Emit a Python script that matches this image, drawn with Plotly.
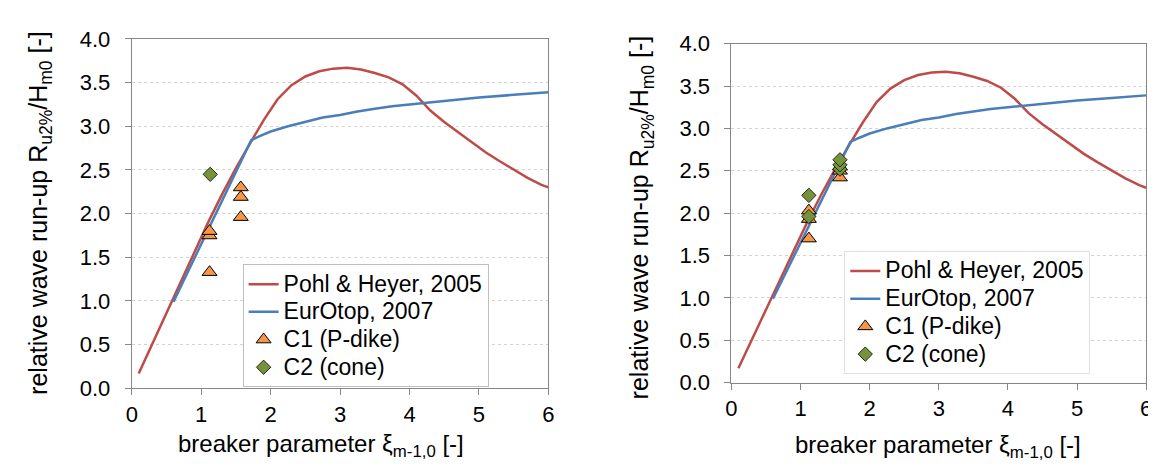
import plotly.graph_objects as go

# ---- data ----
ph_x = [0.1, 0.3, 0.5, 0.7, 0.9, 1.1, 1.3, 1.5, 1.7, 1.9, 2.1, 2.3, 2.5, 2.7, 2.9,
        3.1, 3.3, 3.5, 3.7, 3.9, 4.1, 4.3, 4.5, 4.7, 4.9, 5.1, 5.3, 5.5, 5.7, 5.9, 6.0]
ph_y = [0.17, 0.52, 0.87, 1.22, 1.56, 1.90, 2.22, 2.52, 2.80, 3.07, 3.31, 3.47, 3.57, 3.63, 3.66,
        3.67, 3.65, 3.61, 3.56, 3.48, 3.35, 3.18, 3.05, 2.93, 2.81, 2.70, 2.60, 2.50, 2.41, 2.33, 2.30]

eo_x = [0.6, 0.8, 1.0, 1.2, 1.4, 1.6, 1.72, 1.85, 2.0, 2.25, 2.5, 2.75, 3.0, 3.25, 3.5,
        3.75, 4.0, 4.5, 5.0, 5.5, 6.0]
eo_y = [0.99, 1.32, 1.65, 1.98, 2.31, 2.64, 2.84, 2.89, 2.94, 3.00, 3.05, 3.10, 3.13, 3.17, 3.20,
        3.23, 3.25, 3.29, 3.33, 3.36, 3.39]

c1_left_x = [1.12, 1.12, 1.12, 1.57, 1.57, 1.57]
c1_left_y = [1.33, 1.75, 1.80, 1.96, 2.19, 2.30]
c2_left_x = [1.13]
c2_left_y = [2.45]

c1_right_x = [1.12, 1.12, 1.12, 1.57, 1.57, 1.57]
c1_right_y = [1.70, 1.93, 2.03, 2.42, 2.50, 2.55]
c2_right_x = [1.12, 1.12, 1.57, 1.57, 1.57]
c2_right_y = [1.96, 2.21, 2.52, 2.57, 2.63]

x_ticks = [0, 1, 2, 3, 4, 5, 6]
y_ticks = [0.0, 0.5, 1.0, 1.5, 2.0, 2.5, 3.0, 3.5, 4.0]

names = ["Pohl &amp; Heyer, 2005", "EurOtop, 2007", "C1 (P-dike)", "C2 (cone)"]

RED = "#BE4B48"
BLUE = "#4A7EBB"
ORANGE = "#F79646"
GREEN = "#76923C"
FONT = "Liberation Sans, Arial, sans-serif"

fig = go.Figure()

def big(s):
    return f'<span style="font-size:23px">{s}</span>'

def add_panel(xa, ya, leg, c1x, c1y, c2x, c2y):
    fig.add_trace(go.Scatter(x=ph_x, y=ph_y, mode="lines", name=big(names[0]),
                             line=dict(color=RED, width=2.5), xaxis=xa, yaxis=ya, legend=leg))
    fig.add_trace(go.Scatter(x=eo_x, y=eo_y, mode="lines", name=big(names[1]),
                             line=dict(color=BLUE, width=2.5), xaxis=xa, yaxis=ya, legend=leg))
    fig.add_trace(go.Scatter(x=c1x, y=c1y, mode="markers", name=big(names[2]),
                             marker=dict(symbol="triangle-up", size=13, color=ORANGE,
                                         line=dict(color="black", width=1)),
                             xaxis=xa, yaxis=ya, legend=leg))
    fig.add_trace(go.Scatter(x=c2x, y=c2y, mode="markers", name=big(names[3]),
                             marker=dict(symbol="diamond", size=11, color=GREEN,
                                         line=dict(color="#1F2A10", width=1)),
                             xaxis=xa, yaxis=ya, legend=leg))

add_panel("x", "y", "legend", c1_left_x, c1_left_y, c2_left_x, c2_left_y)
add_panel("x2", "y2", "legend2", c1_right_x, c1_right_y, c2_right_x, c2_right_y)

W, H = 1156, 471

def px_x(p):
    return p / W

def px_y(p):
    return 1 - p / H

axis_common = dict(showline=True, mirror=True, linecolor="#868686", linewidth=1,
                   ticks="outside", ticklen=6, tickcolor="#868686", zeroline=False,
                   ticklabeloverflow="allow",
                   tickfont=dict(family=FONT, size=22, color="black"))

xcommon = dict(axis_common, range=[0, 6], tickvals=x_ticks, ticktext=[str(v) for v in x_ticks],
               showgrid=False, ticklabelstandoff=0)
ycommon = dict(axis_common, range=[0, 4], tickvals=y_ticks, ticktext=[f"{v:.1f}" for v in y_ticks],
               showgrid=True, gridcolor="#D3D3D3", griddash="dot", gridwidth=1, ticklabelstandoff=10)

legend_common = dict(bgcolor="white", borderwidth=1, font=dict(family=FONT, size=19, color="black"),
                     tracegroupgap=0, itemwidth=30)

fig.update_layout(
    width=W, height=H,
    margin=dict(l=0, r=0, t=0, b=0),
    paper_bgcolor="white", plot_bgcolor="white",
    font=dict(family=FONT, color="black"),
    xaxis=dict(xcommon, domain=[px_x(119), px_x(540)], anchor="y"),
    yaxis=dict(ycommon, domain=[px_y(389), px_y(20)], anchor="x"),
    xaxis2=dict(xcommon, domain=[px_x(725), px_x(1144)], anchor="y2"),
    yaxis2=dict(ycommon, domain=[px_y(383), px_y(25)], anchor="x2"),
    legend=dict(legend_common, x=px_x(231), y=px_y(258), xanchor="left", yanchor="top",
                bordercolor="#BFBFBF"),
    legend2=dict(legend_common, x=px_x(839), y=px_y(374), xanchor="left", yanchor="bottom",
                 bordercolor="#E0E0E0"),
    showlegend=True,
)

ytitle = "relative wave run-up R<sub>u2%</sub>/H<sub>m0</sub> [-]"
xtitle = "breaker parameter ξ<sub>m-1,0</sub> [-]"

ann = [
    dict(x=px_x(26), y=px_y(204), text=ytitle, textangle=-90, size=25),
    dict(x=px_x(634), y=px_y(208), text=ytitle, textangle=-90, size=25),
    dict(x=px_x(310), y=px_y(449), text=xtitle, textangle=0, size=24),
    dict(x=px_x(934), y=px_y(450), text=xtitle, textangle=0, size=24),
]
for a in ann:
    fig.add_annotation(xref="paper", yref="paper", showarrow=False,
                       xanchor="center", yanchor="middle",
                       x=a["x"], y=a["y"], text=a["text"], textangle=a["textangle"],
                       font=dict(family=FONT, size=a["size"], color="black"))

fig.write_html("out.html")
